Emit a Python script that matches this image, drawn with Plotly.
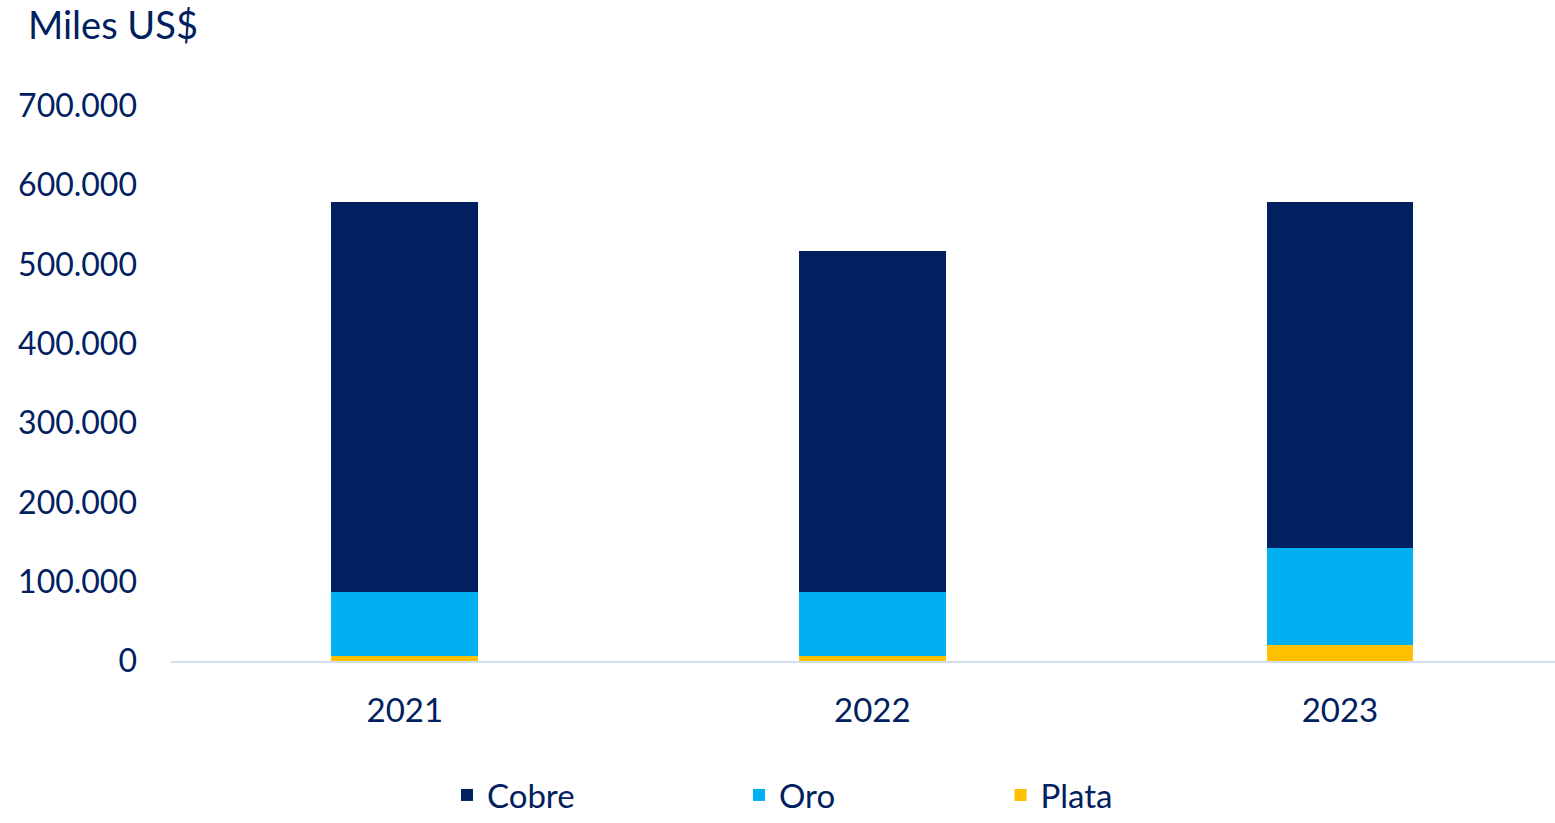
import plotly.graph_objects as go

# Data (miles US$)
years = ["2021", "2022", "2023"]
plata = [6700, 6700, 19800]
oro = [80500, 80500, 122500]
cobre = [491500, 430000, 436500]

_NAVY = "#002060"
_CYAN = "#00B0F0"
_GOLD = "#FFC000"
_FONT = "Lato"

fig = go.Figure()
for name, vals, color, leg_id in [("Plata", plata, _GOLD, "legend3"),
                                  ("Oro", oro, _CYAN, "legend2"),
                                  ("Cobre", cobre, _NAVY, "legend")]:
    fig.add_trace(go.Bar(x=years, y=vals, name=name, legend=leg_id,
                         marker=dict(color=color, line=dict(width=0))))

# legends sit on the bottom edge of the figure so they are not clipped
leg = dict(orientation="h", yref="container", yanchor="bottom", y=0, xanchor="left",
           font=dict(family=_FONT, size=33, color=_NAVY), bgcolor="rgba(0,0,0,0)")

fig.update_layout(
    barmode="stack",
    bargap=0.686,
    width=1555, height=823,
    paper_bgcolor="white", plot_bgcolor="white",
    margin=dict(l=171, r=0, t=106, b=162),
    separators=",.",
    showlegend=True,
    font=dict(family=_FONT, size=32, color=_NAVY),
    legend=dict(x=0.1994, **leg),
    legend2=dict(x=0.4104, **leg),
    legend3=dict(x=0.5994, **leg),
    xaxis=dict(range=[-0.5, 2.46], showline=True, linecolor="#D0DCEF", linewidth=1.5,
               showgrid=False, ticks="", ticklabelstandoff=20,
               tickfont=dict(family=_FONT, size=33, color=_NAVY)),
    yaxis=dict(range=[0, 700000], dtick=100000, tickformat=",d", showgrid=False,
               zeroline=False, showline=False, ticks="", ticklabelstandoff=33,
               tickfont=dict(family=_FONT, size=32, color=_NAVY)),
    annotations=[dict(text="Miles US$", xref="paper", yref="paper", x=-0.1048, y=1.148,
                      xanchor="left", yanchor="middle", showarrow=False,
                      font=dict(family=_FONT, size=38, color=_NAVY))],
)

# drop the default body margin so the 1555x823 figure sits at the window origin
fig.write_html("out.html", config={"displayModeBar": False},
               post_script="document.body.style.margin='0';")
